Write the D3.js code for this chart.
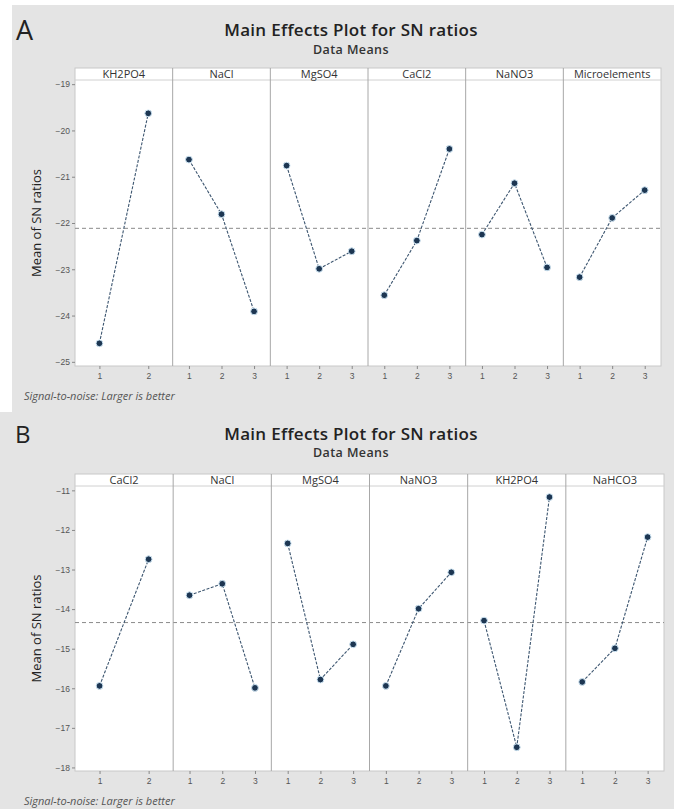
<!DOCTYPE html>
<html>
<head>
<meta charset="utf-8">
<script src="https://cdn.jsdelivr.net/npm/d3@7"></script>
<style>
  body { margin: 0; background: #fff; }
  svg { display: block; font-family: "Open Sans", "Noto Sans", sans-serif; }
  .tick text { fill: #555; font-size: 8.5px; }
  .tick line { stroke: #888; }
  .domain { display: none; }
</style>
</head>
<body>
<div id="chart"></div>
<script>
// panel A data
var factorsA = ["KH2PO4", "NaCl", "MgSO4", "CaCl2", "NaNO3", "Microelements"];
var levelsA = [["1", "2"], ["1", "2", "3"], ["1", "2", "3"], ["1", "2", "3"], ["1", "2", "3"], ["1", "2", "3"]];
var meansA = [
  [-24.60, -19.63],
  [-20.63, -21.81, -23.91],
  [-20.76, -22.99, -22.61],
  [-23.56, -22.38, -20.40],
  [-22.25, -21.14, -22.96],
  [-23.17, -21.89, -21.29]
];
var yTicksA = [-19, -20, -21, -22, -23, -24, -25];

// panel B data
var factorsB = ["CaCl2", "NaCl", "MgSO4", "NaNO3", "KH2PO4", "NaHCO3"];
var levelsB = [["1", "2"], ["1", "2", "3"], ["1", "2", "3"], ["1", "2", "3"], ["1", "2", "3"], ["1", "2", "3"]];
var meansB = [
  [-15.94, -12.74],
  [-13.65, -13.36, -15.99],
  [-12.34, -15.78, -14.89],
  [-15.94, -13.99, -13.07],
  [-14.29, -17.49, -11.17],
  [-15.84, -14.99, -12.18]
];
var yTicksB = [-11, -12, -13, -14, -15, -16, -17, -18];

var w = 674, h = 809;

var svg = d3.select("#chart")
    .append("svg")
    .attr("width", w)
    .attr("height", h);

function drawPlot(cfg) {
    var g = svg.append("g");

    // gray background
    g.append("rect")
        .attr("x", cfg.bg[0]).attr("y", cfg.bg[1])
        .attr("width", cfg.bg[2]).attr("height", cfg.bg[3])
        .attr("fill", "#e4e4e4");

    // letter + titles
    g.append("text")
        .attr("x", cfg.letterX).attr("y", cfg.letterY)
        .attr("font-size", cfg.letterSize)
        .attr("fill", "#222")
        .text(cfg.letter);
    g.append("text")
        .attr("x", 351).attr("y", cfg.titleY)
        .attr("text-anchor", "middle")
        .attr("font-size", 17)
        .attr("font-weight", 600)
        .attr("letter-spacing", 0.3)
        .attr("fill", "#222")
        .text("Main Effects Plot for SN ratios");
    g.append("text")
        .attr("x", 351).attr("y", cfg.subY)
        .attr("text-anchor", "middle")
        .attr("font-size", 12.5)
        .attr("font-weight", 600)
        .attr("letter-spacing", 0.4)
        .attr("fill", "#333")
        .text("Data Means");

    var n = cfg.factors.length;
    var pw = (cfg.right - cfg.left) / n;

    var yScale = d3.scaleLinear()
        .domain(cfg.yDomain)
        .range([cfg.bottom, cfg.top]);

    // white plot + header area
    g.append("rect")
        .attr("x", cfg.left).attr("y", cfg.headTop)
        .attr("width", cfg.right - cfg.left)
        .attr("height", cfg.bottom - cfg.headTop)
        .attr("fill", "#fff")
        .attr("stroke", "#c8c8c8");
    g.append("line")
        .attr("x1", cfg.left).attr("x2", cfg.right)
        .attr("y1", cfg.top).attr("y2", cfg.top)
        .attr("stroke", "#d0d0d0");

    // y axis
    var yAxis = d3.axisLeft(yScale).tickValues(cfg.yTicks).tickFormat(d3.format("d"))
        .tickSize(3).tickPadding(2);
    g.append("g")
        .attr("transform", "translate(" + cfg.left + ",0)")
        .call(yAxis);

    g.append("text")
        .attr("transform", "translate(41," + ((cfg.top + cfg.bottom) / 2) + ") rotate(-90)")
        .attr("text-anchor", "middle")
        .attr("font-size", 13)
        .attr("fill", "#222")
        .text("Mean of SN ratios");

    // grand mean line
    var grand = d3.mean(cfg.means[0]);
    g.append("line")
        .attr("x1", cfg.left).attr("x2", cfg.right)
        .attr("y1", yScale(grand)).attr("y2", yScale(grand))
        .attr("stroke", "#8a8a8a")
        .attr("stroke-dasharray", "4,3");

    cfg.factors.forEach(function(f, i) {
        var x0 = cfg.left + i * pw;
        var xScale = d3.scalePoint()
            .domain(cfg.levels[i])
            .range([x0, x0 + pw])
            .padding(0.5);

        if (i > 0) {
            g.append("line")
                .attr("x1", x0).attr("x2", x0)
                .attr("y1", cfg.headTop).attr("y2", cfg.bottom)
                .attr("stroke", "#a8a8a8");
        }

        g.append("text")
            .attr("x", x0 + pw / 2).attr("y", cfg.headTop + 9.5)
            .attr("text-anchor", "middle")
            .attr("font-size", 11)
            .attr("fill", "#333")
            .text(f);

        var xAxis = d3.axisBottom(xScale).tickSize(3).tickPadding(4);
        g.append("g")
            .attr("transform", "translate(0," + cfg.bottom + ")")
            .call(xAxis);

        var pts = cfg.levels[i].map(function(l, j) { return { lev: l, val: cfg.means[i][j] }; });

        var line = d3.line()
            .x(function(d) { return xScale(d.lev); })
            .y(function(d) { return yScale(d.val); });

        g.append("path")
            .datum(pts)
            .attr("d", line)
            .attr("fill", "none")
            .attr("stroke", "#3d5670")
            .attr("stroke-width", 1.1)
            .attr("stroke-dasharray", "3,1.5");

        g.selectAll(".pt" + i)
            .data(pts)
            .enter()
            .append("circle")
            .attr("cx", function(d) { return xScale(d.lev); })
            .attr("cy", function(d) { return yScale(d.val); })
            .attr("r", 3.4)
            .attr("fill", "#1d3652")
            .attr("stroke", "#cfe6f5")
            .attr("stroke-width", 1);
    });

    g.append("text")
        .attr("x", 24).attr("y", cfg.noteY)
        .attr("font-size", 11)
        .attr("font-style", "italic")
        .attr("fill", "#555")
        .text("Signal-to-noise: Larger is better");
}

drawPlot({
    bg: [12, 5, 662, 407],
    letter: "A", letterX: 16, letterY: 40, letterSize: 27,
    titleY: 36, subY: 54,
    factors: factorsA, levels: levelsA, means: meansA, yTicks: yTicksA,
    left: 75, right: 661, headTop: 68, top: 80, bottom: 366,
    yDomain: [-25.09, -18.91],
    noteY: 400
});

drawPlot({
    bg: [0, 412, 674, 397],
    letter: "B", letterX: 15, letterY: 443, letterSize: 24,
    titleY: 440, subY: 457,
    factors: factorsB, levels: levelsB, means: meansB, yTicks: yTicksB,
    left: 75, right: 664, headTop: 474, top: 486, bottom: 771,
    yDomain: [-18.09, -10.89],
    noteY: 805
});
</script>
</body>
</html>
